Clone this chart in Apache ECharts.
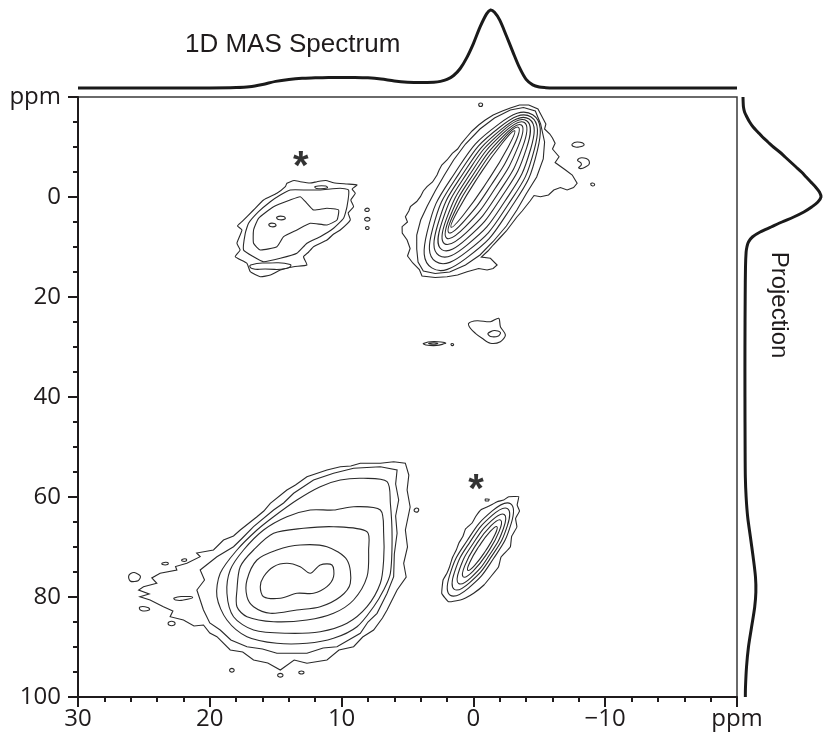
<!DOCTYPE html>
<html>
<head>
<meta charset="utf-8">
<script src="https://cdn.jsdelivr.net/npm/echarts@6/dist/echarts.min.js"></script>
<style>
  html, body { margin: 0; padding: 0; background: #ffffff; }
  #chart { width: 823px; height: 744px; }
</style>
</head>
<body>
<div id="chart"></div>
<script>
// ---- Axis ticks (ppm) ----
const xTickValues = [30, 20, 10, 0, -10, -20];
const xTickLabels = ['30', '20', '10', '0', '\u221210', 'ppm'];
const yTickValues = [-20, 0, 20, 40, 60, 80, 100];
const yTickLabels = ['ppm', '0', '20', '40', '60', '80', '100'];

// ---- 1D MAS spectrum (shift in ppm, normalised intensity) ----
const masShift = [30, 25, 20, 18, 17, 16, 15, 14, 13, 12, 11, 10, 9, 8, 7, 6, 5, 4, 3, 2.5, 2, 1.5, 1, 0.5, 0,
  -0.5, -1, -1.3, -1.6, -2, -2.5, -3, -3.5, -4, -4.5, -5, -5.5, -6, -10, -15, -20];
const masIntensity = [0, 0, 0, 0.005, 0.015, 0.045, 0.085, 0.11, 0.125, 0.13, 0.135, 0.135, 0.135, 0.13, 0.115, 0.09,
  0.075, 0.07, 0.075, 0.085, 0.11, 0.16, 0.25, 0.39, 0.57, 0.78, 0.95, 1.0, 0.97, 0.87, 0.67, 0.46, 0.26, 0.11,
  0.04, 0.012, 0.004, 0, 0, 0, 0];

// ---- Projection onto the indirect dimension (ppm, normalised intensity) ----
const projShift = [-20, -19, -18, -17, -16, -15, -14, -13, -12, -11, -10, -9, -8, -7, -6, -5, -4, -3, -2, -1, 0,
  1, 2, 3, 4, 5, 6, 7, 8, 9, 10, 11, 14, 20, 30, 40, 50, 56, 60, 64, 68, 72, 76, 79, 82, 86, 90, 94, 98, 100];
const projIntensity = [0, 0.002, 0.006, 0.02, 0.05, 0.085, 0.13, 0.19, 0.25, 0.32, 0.39, 0.47, 0.54, 0.61, 0.68,
  0.75, 0.81, 0.87, 0.93, 0.98, 1.0, 0.96, 0.88, 0.78, 0.65, 0.5, 0.36, 0.22, 0.12, 0.07, 0.05, 0.04, 0.032,
  0.028, 0.025, 0.025, 0.027, 0.03, 0.04, 0.06, 0.095, 0.13, 0.16, 0.165, 0.15, 0.11, 0.07, 0.045, 0.032, 0.03];

// ---- Contour rings, [direct ppm, indirect ppm] ----
// Main diagonal peak: smooth inner levels, inner to outer
const mainPeakRings = [
  [[1.69,6.04],[0.76,3.60],[-1.04,-3.05],[-2.64,-10.02],[-3.13,-13.24],[-2.20,-10.80],[-0.40,-4.15],[1.20,2.82]],
  [[1.86,7.15],[0.69,4.76],[-1.35,-2.40],[-3.05,-10.14],[-3.42,-13.93],[-2.25,-11.54],[-0.21,-4.38],[1.49,3.36]],
  [[2.02,8.24],[0.61,5.93],[-1.63,-1.65],[-3.39,-10.07],[-3.64,-14.40],[-2.23,-12.09],[0.01,-4.51],[1.77,3.91]],
  [[2.19,9.35],[0.54,7.12],[-1.92,-0.90],[-3.74,-10.02],[-3.87,-14.89],[-2.22,-12.66],[0.24,-4.64],[2.06,4.48]],
  [[2.40,10.52],[0.52,8.37],[-2.15,-0.05],[-4.04,-9.83],[-4.04,-15.24],[-2.16,-13.09],[0.51,-4.67],[2.40,5.11]],
  [[2.61,11.69],[0.49,9.63],[-2.40,0.80],[-4.35,-9.65],[-4.23,-15.59],[-2.11,-13.53],[0.78,-4.70],[2.73,5.75]],
  [[2.86,12.91],[0.50,10.93],[-2.60,1.65],[-4.62,-9.49],[-4.38,-15.99],[-2.02,-14.01],[1.08,-4.73],[3.10,6.41]],
  [[3.16,14.18],[0.56,12.27],[-2.76,2.50],[-4.86,-9.39],[-4.50,-16.44],[-1.90,-14.53],[1.42,-4.76],[3.52,7.13]]
];
// Main diagonal peak: noisy outer levels
const mainPeakEdges = [
  [[-4.7,-17.2],[-5.1,-14.6],[-5.4,-11.0],[-5.3,-7.6],[-4.8,-4.0],[-4.0,-0.6],[-3.3,2.6],[-2.5,5.8],[-1.5,8.9],
   [-0.5,11.6],[0.6,13.6],[1.8,15.0],[2.9,15.3],[3.8,14.8],[4.2,13.0],[4.3,10.4],[4.3,7.6],[4.0,4.6],[3.5,1.8],
   [2.9,-1.2],[2.2,-4.4],[1.5,-7.4],[0.6,-10.6],[-0.5,-13.6],[-1.6,-15.8],[-2.8,-17.4],[-3.8,-17.9]],
  [[-4.9,-17.6],[-5.3,-15.6],[-5.5,-14.6],[-5.4,-13.6],[-5.8,-12.6],[-6.0,-11.8],[-6.2,-10.74],[-6.0,-9.6],
   [-6.5,-8.06],[-6.2,-6.9],[-6.99,-5.4],[-7.5,-4.4],[-7.87,-2.74],[-7.6,-1.9],[-7.11,-1.4],[-6.6,-1.9],
   [-6.10,-1.4],[-5.7,-0.4],[-5.09,-0.06],[-4.6,-0.3],[-4.3,0.8],[-4.0,1.8],[-3.7,2.8],[-3.3,4.0],[-2.9,5.4],
   [-2.5,6.8],[-2.0,8.2],[-1.5,9.6],[-1.1,10.8],[-0.6,12.0],[-1.29,12.26],[-1.80,13.6],[-1.5,14.3],[-1.04,14.6],
   [-0.4,14.3],[0.48,14.94],[1.2,15.6],[2.0,15.94],[2.9,16.1],[3.9,15.8],[4.1,14.5],[4.6,13.2],[5.0,11.8],
   [4.8,10.3],[5.03,8.6],[5.4,7.2],[5.41,5.94],[5.0,5.0],[5.16,3.94],[4.9,2.8],[4.78,1.94],[4.3,0.9],[4.02,-0.06],
   [3.8,-1.2],[3.52,-2.06],[3.1,-3.0],[2.76,-4.4],[2.6,-5.4],[2.4,-6.4],[2.0,-7.4],[1.6,-8.74],[1.2,-9.6],
   [0.9,-10.74],[0.5,-12.0],[0.1,-13.2],[-0.4,-14.4],[-0.9,-15.4],[-1.5,-16.4],[-2.2,-17.2],[-2.8,-17.8],
   [-3.5,-18.4],[-4.2,-18.4]]
];
const mainPeakSpecks = [
  [[-0.4,-18.5],[-0.55,-18.8],[-0.7,-18.5],[-0.55,-18.1]],
  [[-7.5,-10.6],[-7.9,-11.0],[-8.4,-10.5],[-8.0,-10.0],[-7.6,-10.1]],
  [[-7.9,-7.4],[-8.4,-7.8],[-8.8,-7.0],[-8.5,-6.0],[-8.0,-5.8],[-8.2,-6.6]],
  [[-8.9,-2.6],[-9.05,-2.8],[-9.2,-2.5],[-9.05,-2.2]]
];

// Upper spinning sideband
const sidebandUpper = [
  [[14.15,-2.74],[13.6,-3.3],[13.14,-3.06],[12.4,-2.8],[11.87,-3.06],[11.2,-3.3],[10.61,-2.86],[9.59,-2.6],
   [8.83,-2.4],[9.2,-1.6],[8.96,-0.74],[9.3,0.6],[9.09,1.94],[9.5,3.2],[9.34,4.6],[10.10,6.6],[10.6,7.4],
   [11.11,8.6],[12.13,9.94],[12.5,11.0],[12.89,11.94],[12.63,13.6],[13.64,13.94],[14.65,14.6],[15.4,15.6],
   [16.17,15.94],[16.93,14.94],[17.18,13.26],[18.07,11.94],[17.7,10.6],[17.94,9.26],[17.56,6.6],[17.9,5.8],
   [17.56,4.94],[16.68,2.6],[15.92,0.6],[14.91,-0.74],[14.27,-2.06]],
  [[13.90,-1.4],[12.63,-1.4],[11.62,-1.4],[10.10,-1.74],[9.47,-1.4],[9.59,1.94],[9.85,4.26],[10.61,6.26],
   [11.62,7.94],[12.63,9.26],[13.39,11.26],[14.65,12.26],[15.92,12.94],[16.68,11.94],[17.44,10.6],[17.31,7.26],
   [17.06,5.26],[16.30,2.94],[15.41,0.94],[14.65,-0.4]],
  [[16.30,4.26],[15.16,1.94],[13.90,0.6],[13.14,-0.06],[12.63,1.26],[12.13,2.6],[11.11,2.26],[10.23,2.6],
   [10.35,4.6],[11.11,5.6],[12.38,5.26],[13.39,6.6],[14.40,7.94],[14.91,9.94],[16.17,10.6],[16.68,9.26],[16.68,6.6]]
];
const sidebandUpperSpecks = [
  [[16.9,13.6],[15.5,13.2],[13.9,13.5],[14.2,14.3],[15.8,14.4],[16.8,14.3]],
  [[14.9,4.0],[14.4,3.9],[14.3,4.4],[14.8,4.5]],
  [[15.5,5.4],[15.1,5.3],[15.0,5.8],[15.4,5.9]],
  [[12.0,-2.1],[11.2,-2.2],[11.1,-1.8],[11.9,-1.7]],
  [[8.2,2.4],[7.95,2.3],[7.95,2.8],[8.2,2.8]],
  [[8.2,4.2],[7.9,4.2],[7.9,4.7],[8.2,4.7]],
  [[8.15,6.0],[7.95,6.0],[7.95,6.4],[8.15,6.4]]
];

// Weak cross peaks near 27-29 ppm
const weakPeaks = [
  [[0.36,25.26],[-0.28,24.74],[-1.29,24.94],[-1.92,24.26],[-2.05,25.94],[-2.43,27.6],[-2.05,28.94],[-1.29,29.26],
   [-0.66,28.26],[-0.15,27.26],[0.23,26.26]],
  [[-1.1,27.3],[-1.6,26.7],[-2.05,27.1],[-1.9,27.8],[-1.3,27.9]],
  [[3.8,29.3],[3.0,28.9],[2.1,29.2],[2.8,29.7],[3.6,29.6]],
  [[3.4,29.3],[3.0,29.15],[2.7,29.3],[3.0,29.45]],
  [[1.7,29.4],[1.55,29.35],[1.5,29.6],[1.65,29.7]]
];

// Lower spinning sideband
const sidebandLowerRings = [
  [[0.42,74.68],[-0.08,73.71],[-0.93,70.74],[-1.64,67.51],[-1.78,65.92],[-1.28,66.89],[-0.43,69.86],[0.28,73.09]],
  [[0.77,75.98],[0.04,74.86],[-1.09,71.07],[-1.96,66.82],[-2.07,64.62],[-1.34,65.74],[-0.21,69.53],[0.66,73.78]],
  [[1.12,77.30],[0.16,76.06],[-1.24,71.50],[-2.28,66.30],[-2.34,63.50],[-1.38,64.74],[0.02,69.30],[1.06,74.50]],
  [[1.45,78.47],[0.28,77.11],[-1.39,71.83],[-2.58,65.71],[-2.59,62.33],[-1.42,63.69],[0.25,68.97],[1.44,75.09]],
  [[1.76,79.65],[0.37,78.21],[-1.54,72.26],[-2.87,65.27],[-2.82,61.35],[-1.43,62.79],[0.48,68.74],[1.81,75.73]]
];
const sidebandLowerEdge = [
  [[-3.44,59.94],[-3.32,61.6],[-3.5,62.8],[-3.2,64.3],[-3.3,66.0],[-2.9,67.9],[-2.8,70.0],[-2.1,72.0],[-1.9,74.0],
   [-1.3,76.0],[-0.8,77.6],[-0.02,79.26],[0.6,80.2],[0.99,80.6],[1.88,80.94],[2.4,79.3],[2.3,76.6],[2.0,75.2],
   [1.8,73.9],[1.6,72.2],[1.3,70.6],[1.1,69.2],[0.8,67.9],[0.6,66.4],[0.1,65.2],[-0.2,63.8],[-0.6,62.5],
   [-1.2,61.8],[-1.80,60.94],[-2.3,60.6],[-2.68,59.94]],
  [[-0.9,60.4],[-1.2,60.45],[-1.15,60.8],[-0.9,60.75]]
];

// Broad lower peak: inner to outer
const broadPeakRings = [
  [[15.92,75.94],[15.16,73.94],[14.15,73.26],[13.14,73.94],[12.38,75.26],[11.62,73.6],[10.73,73.6],[10.61,75.94],
   [11.11,77.94],[12.13,79.26],[13.39,79.26],[14.65,80.26],[15.92,79.94],[16.17,77.94]],
  [[17.18,76.6],[16.42,72.6],[14.91,70.6],[13.14,69.6],[11.11,69.94],[9.59,72.6],[9.34,77.26],[10.10,79.94],
   [11.62,81.94],[13.39,82.6],[15.41,83.26],[16.68,81.94],[17.18,79.94]],
  [[17.94,78.6],[17.69,73.94],[16.68,70.6],[15.16,67.26],[12.89,66.26],[10.61,65.94],[8.07,66.94],[7.95,70.6],
   [8.07,75.94],[9.09,80.6],[10.61,83.26],[12.63,84.6],[15.16,84.94],[17.18,83.94],[17.94,81.94]],
  [[18.70,79.26],[18.45,74.6],[17.44,70.6],[15.92,66.6],[14.15,63.94],[12.38,62.6],[10.61,62.6],[9.09,61.94],
   [7.06,62.6],[6.81,67.26],[6.81,72.6],[7.06,77.26],[8.07,81.94],[9.59,85.26],[11.62,86.94],[14.15,87.26],
   [16.68,86.6],[18.20,83.94]],
  [[19.46,79.94],[19.21,75.26],[17.94,70.6],[16.42,66.6],[15.16,63.94],[13.39,60.6],[11.62,57.94],[10.10,56.6],
   [8.33,56.26],[6.55,56.94],[6.30,61.26],[6.17,67.94],[6.30,75.26],[6.81,78.6],[7.57,81.94],[8.83,85.94],
   [10.61,88.26],[12.63,89.26],[14.91,89.26],[17.18,87.94],[18.70,84.6]]
];
const broadPeakEdges = [
  [[20.48,82.6],[20.98,78.6],[20.4,76.6],[20.73,74.6],[19.46,71.94],[18.20,69.94],[17.6,68.4],[16.68,65.94],
   [15.16,62.6],[14.4,61.2],[13.64,59.26],[12.13,56.6],[10.61,55.26],[9.09,54.26],[7.06,53.94],[5.79,54.6],
   [5.9,57.4],[5.67,60.6],[5.9,63.8],[5.79,67.26],[6.0,71.4],[6.05,75.94],[6.55,79.26],[7.31,83.26],[8.0,85.0],
   [8.58,87.26],[10.35,89.94],[11.4,90.2],[12.63,91.26],[14.91,91.26],[16.0,90.4],[17.18,89.94],[18.4,88.6],
   [19.21,86.6],[20.0,85.2]],
  [[5.16,53.26],[4.9,55.6],[5.03,58.6],[4.8,62.0],[5.16,66.6],[5.0,70.0],[5.29,73.26],[5.1,76.0],[5.79,78.6],
   [6.55,82.6],[6.9,84.2],[7.57,86.6],[8.4,88.0],[9.09,89.94],[10.2,90.6],[11.11,92.6],[12.63,93.26],[13.6,92.6],
   [14.65,94.6],[15.6,93.2],[16.68,92.6],[17.5,91.0],[18.45,90.6],[19.46,87.94],[20.0,87.2],[20.48,85.6],
   [21.2,85.8],[22.0,84.6],[23.01,83.94],[22.8,82.8],[23.52,81.94],[24.53,80.6],[25.3,79.94],[24.6,79.4],
   [25.4,78.6],[25.03,77.94],[24.02,77.26],[24.4,76.2],[23.77,75.26],[22.50,74.6],[22.6,73.9],[21.74,73.26],
   [20.73,71.94],[21.0,71.2],[19.72,70.6],[18.96,68.6],[18.2,67.8],[17.69,66.6],[16.42,63.94],[15.9,62.8],
   [15.41,61.26],[14.15,58.6],[13.5,57.6],[12.63,55.94],[11.11,54.6],[10.10,53.94],[9.3,53.8],[8.58,53.26],
   [7.06,53.26],[6.05,52.94]]
];
const broadPeakSpecks = [
  [[26.0,75.3],[25.4,75.5],[25.3,76.3],[25.7,76.9],[26.1,76.6]],
  [[25.3,82.0],[24.7,82.1],[24.6,82.6],[25.2,82.7]],
  [[23.1,85.0],[22.7,85.0],[22.7,85.6],[23.1,85.6]],
  [[22.7,80.2],[22.0,79.9],[21.3,80.1],[22.0,80.6],[22.6,80.6]],
  [[23.6,73.2],[23.2,73.1],[23.2,73.5],[23.6,73.5]],
  [[22.1,72.5],[21.8,72.4],[21.8,72.8],[22.1,72.8]],
  [[18.45,94.4],[18.2,94.4],[18.2,94.9],[18.45,94.9]],
  [[14.8,95.4],[14.5,95.4],[14.5,95.9],[14.8,95.9]],
  [[13.2,94.9],[12.9,94.9],[12.9,95.3],[13.2,95.3]],
  [[4.45,62.4],[4.2,62.3],[4.2,62.9],[4.45,62.9]]
];

// Spinning sideband markers
const sidebandStars = [[13.1, -7.4], [-0.2, 57.2]];

// ---- Build drawing lists ----
const ink = '#1f1b1c';
const contourSets = [
  { rings: mainPeakRings, smooth: 0.5 },
  { rings: mainPeakEdges, smooth: 0 },
  { rings: mainPeakSpecks, smooth: 0.6 },
  { rings: sidebandUpper, smooth: 0.15 },
  { rings: sidebandUpperSpecks, smooth: 0.6 },
  { rings: weakPeaks, smooth: 0.3 },
  { rings: sidebandLowerRings, smooth: 0.5 },
  { rings: sidebandLowerEdge, smooth: 0.1 },
  { rings: broadPeakRings, smooth: 0.3 },
  { rings: broadPeakEdges, smooth: 0 },
  { rings: broadPeakSpecks, smooth: 0.6 }
];
const contourList = [];
contourSets.forEach(set => set.rings.forEach(r => contourList.push({ pts: r, smooth: set.smooth })));

const masData = masShift.map((v, i) => [v, masIntensity[i]]);
const projData = projShift.map((v, i) => [projIntensity[i], v]);

const chart = echarts.init(document.getElementById('chart'), null, { renderer: 'canvas' });

const labelFont = { fontSize: 24, fontFamily: 'Open Sans', color: ink };
const traceStyle = { fill: 'none', stroke: '#1a1a1a', lineWidth: 3, lineJoin: 'round' };

// Draws one whole trace through the axis scales (only on the first item)
function traceRenderer(points) {
  return function (params, api) {
    if (params.dataIndex !== 0) return null;
    return {
      type: 'polyline',
      shape: { points: points.map(p => api.coord(p)), smooth: 0.3 },
      style: traceStyle
    };
  };
}

chart.setOption({
  animation: false,
  backgroundColor: '#ffffff',
  grid: [
    { left: 78, top: 97, width: 659, height: 600, show: true, borderColor: '#3a3a3a', borderWidth: 1.5 },
    { left: 78, top: 10, width: 659, height: 78 },
    { left: 743, top: 97, width: 78, height: 600 }
  ],
  xAxis: [
    {
      gridIndex: 0, type: 'value', min: -20, max: 30, interval: 10, inverse: true, position: 'bottom',
      axisLine: { show: true, onZero: false, lineStyle: { color: ink, width: 2 } },
      axisTick: { show: true, inside: false, length: 10, lineStyle: { color: ink, width: 2 } },
      minorTick: { show: true, splitNumber: 5, length: 5, lineStyle: { color: ink, width: 2 } },
      splitLine: { show: false },
      axisLabel: Object.assign({ margin: 10, formatter: v => xTickLabels[xTickValues.indexOf(v)] }, labelFont)
    },
    { gridIndex: 1, type: 'value', min: -20, max: 30, inverse: true, show: false },
    { gridIndex: 2, type: 'value', min: 0, max: 1, show: false }
  ],
  yAxis: [
    {
      gridIndex: 0, type: 'value', min: -20, max: 100, interval: 20, inverse: true, position: 'left',
      axisLine: { show: true, onZero: false, lineStyle: { color: ink, width: 2 } },
      axisTick: { show: true, inside: false, length: 10, lineStyle: { color: ink, width: 2 } },
      minorTick: { show: true, splitNumber: 4, length: 5, lineStyle: { color: ink, width: 2 } },
      splitLine: { show: false },
      axisLabel: Object.assign({ margin: 17, formatter: v => yTickLabels[yTickValues.indexOf(v)] }, labelFont)
    },
    { gridIndex: 1, type: 'value', min: 0, max: 1, show: false },
    { gridIndex: 2, type: 'value', min: -20, max: 100, inverse: true, show: false }
  ],
  graphic: [
    {
      type: 'text', left: 185, top: 32, silent: true,
      style: { text: '1D MAS Spectrum', fontSize: 26, fontFamily: 'Liberation Sans', fill: ink }
    },
    {
      type: 'text', x: 779, y: 305, rotation: -Math.PI / 2, silent: true,
      style: { text: 'Projection', fontSize: 24, fontFamily: 'Liberation Sans', fill: ink,
               align: 'center', verticalAlign: 'middle' }
    }
  ],
  series: [
    {
      type: 'custom', xAxisIndex: 0, yAxisIndex: 0, clip: false,
      data: contourList.map((c, i) => [c.pts[0][0], c.pts[0][1], i]),
      renderItem: function (params, api) {
        const c = contourList[api.value(2)];
        return {
          type: 'polygon',
          shape: { points: c.pts.map(p => api.coord(p)), smooth: c.smooth },
          style: { fill: 'none', stroke: '#2a2a2a', lineWidth: 1.1 }
        };
      }
    },
    {
      type: 'scatter', xAxisIndex: 0, yAxisIndex: 0, data: sidebandStars,
      symbolSize: 2, itemStyle: { color: 'rgba(0,0,0,0)' },
      label: { show: true, position: 'inside', formatter: '*', fontSize: 40, fontWeight: 'bold',
               fontFamily: 'Liberation Sans', color: '#000000', offset: [0, 8] }
    },
    {
      type: 'custom', xAxisIndex: 1, yAxisIndex: 1, clip: false, data: masData,
      renderItem: traceRenderer(masData)
    },
    {
      type: 'custom', xAxisIndex: 2, yAxisIndex: 2, clip: false, data: projData,
      renderItem: traceRenderer(projData)
    }
  ]
});
</script>
</body>
</html>
